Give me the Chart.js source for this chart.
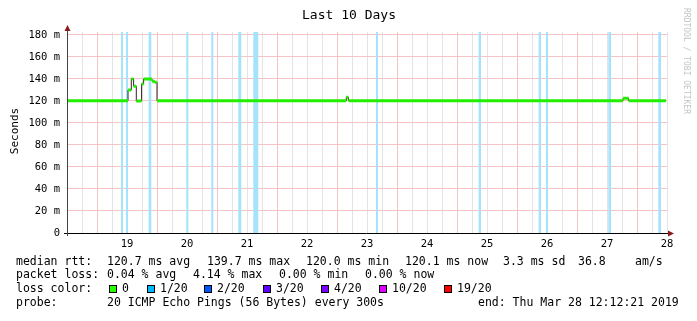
<!DOCTYPE html>
<html>
<head>
<meta charset="utf-8">
<script src="https://cdn.jsdelivr.net/npm/chart.js@4.4.1/dist/chart.umd.min.js"></script>
<style>
  html, body { margin: 0; padding: 0; background: #fff; }
  #wrap { position: relative; width: 697px; height: 321px; }
</style>
</head>
<body>
<div id="wrap"><canvas id="rttChart" width="697" height="321"></canvas></div>
<script>
// median rtt steps: day of month -> value (ms), each value holds until the next day entry
var rttDays   = [18.0, 19.017, 19.072, 19.110, 19.155, 19.243, 19.277, 19.417, 19.460, 19.500, 22.655, 22.690, 27.267, 27.360, 27.983];
var rttValues = [120.3, 130.0, 140.0, 133.5, 120.0, 135.5, 140.0, 138.0, 137.0, 120.3, 123.5, 120.3, 122.5, 120.3, 120.1];

// periods with 1/20 packet loss (start / end, day of month)
var lossStart = [18.900, 18.983, 19.360, 19.988, 20.405, 20.855, 21.105, 23.150, 24.860, 25.860, 25.983, 27.022, 27.855];
var lossEnd   = [18.933, 19.017, 19.405, 20.022, 20.438, 20.905, 21.188, 23.183, 24.900, 25.900, 26.017, 27.067, 27.900];

var dayLabels = ['19', '20', '21', '22', '23', '24', '25', '26', '27', '28'];
var yLabels   = ['0', '20 m', '40 m', '60 m', '80 m', '100 m', '120 m', '140 m', '160 m', '180 m'];

var legendRows = [
  [['median rtt:', 16], ['120.7 ms avg', 107], ['139.7 ms max', 207], ['120.0 ms min', 306], ['120.1 ms now', 405], ['3.3 ms sd', 503], ['36.8', 578], ['am/s', 635]],
  [['packet loss:', 16], ['0.04 % avg', 107], ['4.14 % max', 193], ['0.00 % min', 279], ['0.00 % now', 365]],
  [['loss color:', 16]],
  [['probe:', 16], ['20 ICMP Echo Pings (56 Bytes) every 300s', 107], ['end: Thu Mar 28 12:12:21 2019', 478]]
];
var lossNames  = ['0', '1/20', '2/20', '3/20', '4/20', '10/20', '19/20'];
var lossColors = ['#26ff00', '#00b8ff', '#0059ff', '#5e00ff', '#7e00ff', '#dd00ff', '#ff0000'];
var lossBoxX   = [109, 147, 204, 263, 321, 379, 444];

var MONO = '"DejaVu Sans Mono", monospace';

// green horizontal pieces only (verticals stay dark like rrdtool)
var greenPieces = [];
for (var i = 0; i < rttDays.length - 1; i++) {
  greenPieces.push({ x: rttDays[i], y: rttValues[i] });
  greenPieces.push({ x: rttDays[i + 1], y: rttValues[i] });
  greenPieces.push({ x: rttDays[i + 1], y: null });
}
var stepLine = rttDays.map(function(d, i) { return { x: d, y: rttValues[i] }; });

var lossBands = {
  id: 'lossBands',
  beforeDatasetsDraw: function(chart) {
    var ctx = chart.ctx, xs = chart.scales.x, a = chart.chartArea;
    ctx.save();
    ctx.fillStyle = '#a6e3fb';
    for (var i = 0; i < lossStart.length; i++) {
      var x0 = xs.getPixelForValue(lossStart[i]);
      var x1 = xs.getPixelForValue(lossEnd[i]);
      ctx.fillRect(x0, a.top, Math.max(2, x1 - x0), a.bottom - a.top);
    }
    ctx.restore();
  }
};

var decorations = {
  id: 'decorations',
  afterDraw: function(chart) {
    var ctx = chart.ctx, a = chart.chartArea;
    ctx.save();
    // axes
    ctx.strokeStyle = '#000';
    ctx.lineWidth = 1;
    ctx.beginPath();
    ctx.moveTo(a.left - 3, a.bottom + 0.5);
    ctx.lineTo(a.right + 2, a.bottom + 0.5);
    ctx.stroke();
    ctx.strokeStyle = '#444';
    ctx.beginPath();
    ctx.moveTo(a.left + 0.5, a.bottom + 3);
    ctx.lineTo(a.left + 0.5, a.top - 3);
    ctx.stroke();
    ctx.fillStyle = '#8b1a1a';
    ctx.beginPath();
    ctx.moveTo(a.right + 7, a.bottom + 0.5);
    ctx.lineTo(a.right + 1, a.bottom - 2.5);
    ctx.lineTo(a.right + 1, a.bottom + 3.5);
    ctx.closePath();
    ctx.fill();
    ctx.beginPath();
    ctx.moveTo(a.left + 0.5, a.top - 7);
    ctx.lineTo(a.left - 2.5, a.top - 1);
    ctx.lineTo(a.left + 3.5, a.top - 1);
    ctx.closePath();
    ctx.fill();

    // title
    ctx.fillStyle = '#000';
    ctx.font = '13px ' + MONO;
    ctx.textAlign = 'center';
    ctx.textBaseline = 'middle';
    ctx.fillText('Last 10 Days', 349, 16);

    // y axis title
    ctx.font = '11px ' + MONO;
    ctx.save();
    ctx.translate(15, 131);
    ctx.rotate(-Math.PI / 2);
    ctx.fillText('Seconds', 0, 0);
    ctx.restore();

    // watermark
    ctx.save();
    ctx.fillStyle = '#c4c4c4';
    ctx.font = '8px ' + MONO;
    ctx.translate(686, 61);
    ctx.rotate(Math.PI / 2);
    ctx.fillText('RRDTOOL / TOBI OETIKER', 0, 0);
    ctx.restore();

    // legend rows
    ctx.textAlign = 'left';
    ctx.font = '11.5px ' + MONO;
    var rowY = [262, 275.5, 289.5, 303.5];
    legendRows.forEach(function(row, r) {
      row.forEach(function(p) { ctx.fillText(p[0], p[1], rowY[r]); });
    });
    for (var i = 0; i < lossNames.length; i++) {
      ctx.fillStyle = lossColors[i];
      ctx.fillRect(lossBoxX[i] + 0.5, 285.5, 7, 7);
      ctx.strokeStyle = '#000';
      ctx.strokeRect(lossBoxX[i] + 0.5, 285.5, 7, 7);
      ctx.fillStyle = '#000';
      ctx.fillText(lossNames[i], lossBoxX[i] + 13, rowY[2]);
    }
    ctx.restore();
  }
};

new Chart(document.getElementById('rttChart').getContext('2d'), {
  type: 'line',
  data: {
    datasets: [{
      data: greenPieces,
      borderColor: '#22ee00',
      borderWidth: 3,
      borderCapStyle: 'butt',
      pointRadius: 0,
      spanGaps: false,
      order: 0
    }, {
      data: stepLine,
      borderColor: '#3c1e1e',
      borderWidth: 1,
      stepped: 'before',
      pointRadius: 0,
      order: 1
    }]
  },
  options: {
    responsive: false,
    animation: false,
    layout: { padding: { top: 32, right: 30, left: 0, bottom: 0 } },
    plugins: { legend: { display: false }, tooltip: { enabled: false } },
    scales: {
      x: {
        type: 'linear',
        min: 18,
        max: 28,
        afterFit: function(s) { s.height = 88; },
        afterBuildTicks: function(s) {
          var t = [];
          for (var i = 1; i <= 40; i++) t.push({ value: 18 + i / 4 });
          s.ticks = t;
        },
        border: { display: false },
        grid: {
          drawTicks: false,
          color: function(c) { return c.tick && c.tick.value % 1 === 0.5 ? '#f6c4c4' : '#e4e4e4'; }
        },
        ticks: {
          autoSkip: false,
          maxRotation: 0,
          padding: 5,
          color: '#000',
          font: { family: MONO, size: 10.5 },
          callback: function(v) {
            var k = dayLabels.indexOf(String(v));
            return k >= 0 ? dayLabels[k] : '';
          }
        }
      },
      y: {
        min: 0,
        max: 182.7,
        afterFit: function(s) { s.width = 67; },
        afterBuildTicks: function(s) {
          var t = [];
          for (var i = 0; i <= 18; i++) t.push({ value: i * 10 });
          s.ticks = t;
        },
        border: { display: false },
        grid: {
          drawTicks: false,
          color: function(c) { return c.tick && c.tick.value % 20 === 0 ? '#f6c4c4' : '#e4e4e4'; }
        },
        ticks: {
          padding: 7,
          color: '#000',
          font: { family: MONO, size: 10.5 },
          callback: function(v) { return v % 20 === 0 ? yLabels[v / 20] : ''; }
        }
      }
    }
  },
  plugins: [lossBands, decorations]
});
</script>
</body>
</html>
